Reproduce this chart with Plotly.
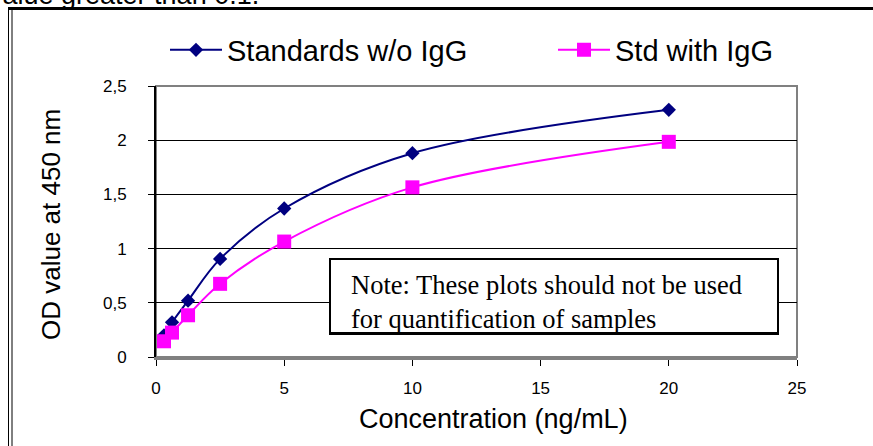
import plotly.graph_objects as go

# ---- data ----
conc = [0.3125, 0.625, 1.25, 2.5, 5, 10, 20]
od_without_igg = [0.20, 0.32, 0.52, 0.905, 1.37, 1.88, 2.28]
od_with_igg = [0.145, 0.225, 0.385, 0.675, 1.065, 1.565, 1.985]
series_names = ["Standards w/o IgG", "Std with IgG"]
x_ticks = [0, 5, 10, 15, 20, 25]
y_ticks = [0, 0.5, 1, 1.5, 2, 2.5]
x_title = "Concentration (ng/mL)"
y_title = "OD value at 450 nm"

W, H = 873, 446
L, R, T, B = 156, 76, 86, 89
PW, PH = W - L - R, H - T - B

def px_x(p):
    return (p - L) / PW

def px_y(p):
    return (H - B - p) / PH

arial = "Liberation Sans, Arial, sans-serif"
times = "Liberation Serif, Times New Roman, serif"

fig = go.Figure()
fig.add_trace(go.Scatter(
    x=conc, y=od_without_igg, name=series_names[0], mode="lines+markers",
    line=dict(color="#000080", width=2, shape="spline", smoothing=1.0),
    marker=dict(symbol="diamond", size=11, color="#000080"),
    legend="legend",
))
fig.add_trace(go.Scatter(
    x=conc, y=od_with_igg, name=series_names[1], mode="lines+markers",
    line=dict(color="#FF00FF", width=2, shape="spline", smoothing=1.0),
    marker=dict(symbol="square", size=14, color="#FF00FF"),
    legend="legend2",
))

shapes = [
    dict(type="rect", xref="paper", yref="paper", x0=0, x1=1, y0=0, y1=1,
         line=dict(color="#808080", width=2), layer="below"),
    dict(type="line", xref="paper", yref="paper", x0=px_x(8), x1=px_x(880),
         y0=px_y(8.5), y1=px_y(8.5), line=dict(color="black", width=3)),
    dict(type="line", xref="paper", yref="paper", x0=px_x(8.5), x1=px_x(8.5),
         y0=px_y(8), y1=px_y(450), line=dict(color="black", width=1)),
    dict(type="line", xref="paper", yref="paper", x0=px_x(12), x1=px_x(12),
         y0=px_y(10), y1=px_y(450), line=dict(color="black", width=1)),
    dict(type="rect", xref="paper", yref="paper", x0=px_x(330), x1=px_x(778),
         y0=px_y(334), y1=px_y(259), fillcolor="white",
         line=dict(color="black", width=2), layer="above"),
]

annotations = [
    dict(text="value greater than 0.1.", xref="paper", yref="paper",
         x=px_x(-13), y=px_y(12), xanchor="left", yanchor="bottom",
         showarrow=False, font=dict(family=arial, size=27, color="black")),
    dict(text=y_title, xref="paper", yref="paper", x=px_x(51), y=px_y(225),
         xanchor="center", yanchor="middle", textangle=-90, showarrow=False,
         font=dict(family=arial, size=26, color="black")),
    dict(text=x_title, xref="paper", yref="paper", x=px_x(493), y=px_y(419),
         xanchor="center", yanchor="middle", showarrow=False,
         font=dict(family=arial, size=27, color="black")),
    dict(text="Note: These plots should not be used<br>for quantification of samples",
         xref="paper", yref="paper", x=px_x(349), y=px_y(268),
         xanchor="left", yanchor="top", align="left", showarrow=False,
         font=dict(family=times, size=26.5, color="black")),
    dict(text="", xref="paper", yref="paper", x=px_x(554), y=px_y(341),
         xanchor="center", yanchor="middle", width=444, height=12,
         bgcolor="white", borderpad=0, borderwidth=0, showarrow=False),
    dict(text="", xref="paper", yref="paper", x=px_x(554), y=px_y(333),
         xanchor="center", yanchor="middle", width=448, height=2,
         bgcolor="black", borderpad=0, borderwidth=0, showarrow=False),
]

legend_common = dict(orientation="h", yanchor="middle", xanchor="left",
                     font=dict(family=arial, size=29, color="black"),
                     itemwidth=52, bgcolor="rgba(0,0,0,0)")

fig.update_layout(
    width=W, height=H,
    margin=dict(l=L, r=R, t=T, b=B, autoexpand=False),
    paper_bgcolor="white", plot_bgcolor="white",
    separators=",.",
    showlegend=True,
    legend=dict(legend_common, x=px_x(165), y=px_y(50)),
    legend2=dict(legend_common, x=px_x(553), y=px_y(50)),
    xaxis=dict(range=[0, 25], tickvals=x_ticks, showgrid=False, zeroline=False,
               showline=True, linecolor="#808080", linewidth=3,
               ticks="outside", ticklen=6, tickcolor="black", tickwidth=1,
               ticklabelstandoff=8,
               tickfont=dict(family=arial, size=17, color="black")),
    yaxis=dict(range=[0, 2.5], tickvals=y_ticks, showgrid=True,
               gridcolor="black", gridwidth=1, zeroline=False,
               showline=True, linecolor="black", linewidth=2,
               ticks="outside", ticklen=6, tickcolor="black", tickwidth=1,
               ticklabelstandoff=18,
               tickfont=dict(family=arial, size=17, color="black")),
    shapes=shapes, annotations=annotations,
)

fig.write_html("out.html", config={"displayModeBar": False},
               post_script="document.body.style.margin='0';")
